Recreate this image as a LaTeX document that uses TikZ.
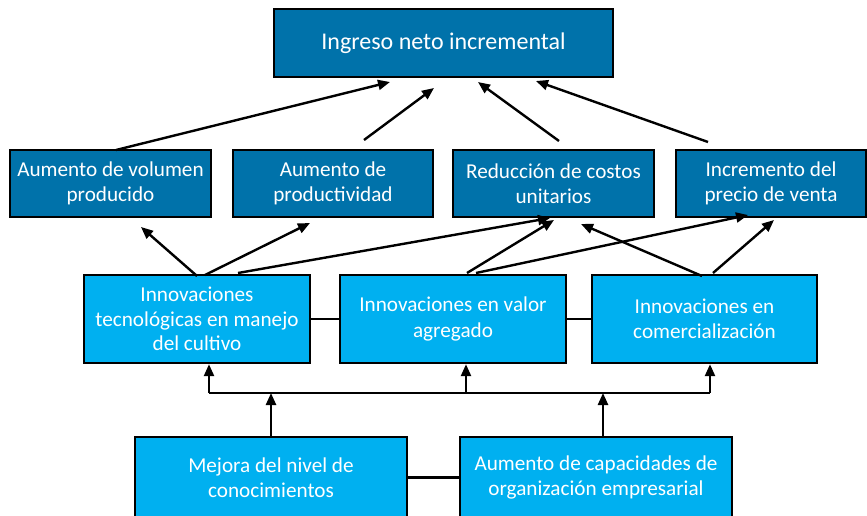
\documentclass[tikz,border=0pt]{standalone}
\usepackage{fontspec}
\setmainfont{Carlito}
\usetikzlibrary{arrows.meta}
\definecolor{darkbox}{RGB}{0,114,170}
\definecolor{lightbox}{RGB}{0,176,240}
\begin{document}
\begin{tikzpicture}[x=1pt,y=-1pt,
  box/.style={draw=black, line width=2.4pt, text=white, align=center, font=\fontsize{21.2}{25.5}\selectfont, inner sep=0pt},
  dk/.style={box, fill=darkbox},
  lt/.style={box, fill=lightbox},
  arr/.style={line width=2.4pt, -{Triangle[length=12pt,width=10pt]}},
  ln/.style={line width=2.4pt}]
\clip (0,0) rectangle (867,516);
% top
\node[dk, minimum width=339pt, minimum height=68pt, font=\fontsize{24}{28}\selectfont] (top) at (443.5,43) {Ingreso neto incremental};
% row 2
\node[dk, minimum width=201pt, minimum height=67pt] (A) at (110.5,183.5) {Aumento de volumen\\producido};
\node[dk, minimum width=200pt, minimum height=67pt] (B) at (333,183.5) {Aumento de\\productividad};
\node[dk, minimum width=201pt, minimum height=67pt] (C) at (553.5,183.5) {Reducción de costos\\unitarios};
\node[dk, minimum width=190pt, minimum height=67pt] (D) at (771,183.5) {Incremento del\\precio de venta};
% row 3
\node[lt, minimum width=226pt, minimum height=88pt, font=\fontsize{21.2}{24.5}\selectfont] (E) at (197,319) {Innovaciones\\tecnológicas en manejo\\del cultivo};
\node[lt, minimum width=226pt, minimum height=88pt] (F) at (453,319) {Innovaciones en valor\\agregado};
\node[lt, minimum width=225pt, minimum height=88pt] (G) at (704.5,319) {Innovaciones en\\comercialización};
% row 4
\node[lt, minimum width=272pt, minimum height=81pt] (H) at (271,477.5) {Mejora del nivel de\\conocimientos};
\node[lt, minimum width=272pt, minimum height=81pt] (I) at (596,477.5) {Aumento de capacidades de\\organización empresarial};
% links between siblings
\draw[ln] (E) -- (F);
\draw[ln] (F) -- (G);
\draw[ln] (H) -- (I);
% bus
\coordinate (busL) at (209,393);
\coordinate (busM) at (466,393);
\coordinate (busR) at (710,393);
\coordinate (iS) at (603,437);
\draw[ln] (busL) -- (busR);
\draw[arr] (busL) -- (busL |- E.south);
\draw[arr] (busM) -- (busM |- F.south);
\draw[arr] (busR) -- (busR |- G.south);
\draw[arr] (H.north) -- (H.north |- busL);
\draw[arr] (iS) -- (iS |- busR);
% row 2 -> top
\coordinate (a1) at (116,150);  \coordinate (t1) at (390,82);
\coordinate (b1) at (364,140);  \coordinate (t2) at (434,88);
\coordinate (c1) at (559,141);  \coordinate (t3) at (478,82);
\coordinate (d1) at (708,142);  \coordinate (t4) at (536,81);
\draw[arr] (a1) -- (t1);
\draw[arr] (b1) -- (t2);
\draw[arr] (c1) -- (t3);
\draw[arr] (d1) -- (t4);
% row 3 -> row 2
\coordinate (e1) at (197,276); \coordinate (ea) at (141,227);
\coordinate (e2) at (205,275); \coordinate (eb) at (310,223);
\coordinate (e3) at (238,273); \coordinate (ec) at (550,218);
\coordinate (f1) at (467,273); \coordinate (fc) at (554,220);
\coordinate (f2) at (476,273); \coordinate (fd) at (748,215);
\coordinate (g1) at (702,276); \coordinate (gc) at (581,224);
\coordinate (g2) at (713,273); \coordinate (gd) at (774,220);
\draw[arr] (e1) -- (ea);
\draw[arr] (e2) -- (eb);
\draw[arr] (e3) -- (ec);
\draw[arr] (f1) -- (fc);
\draw[arr] (f2) -- (fd);
\draw[arr] (g1) -- (gc);
\draw[arr] (g2) -- (gd);
\end{tikzpicture}
\end{document}
